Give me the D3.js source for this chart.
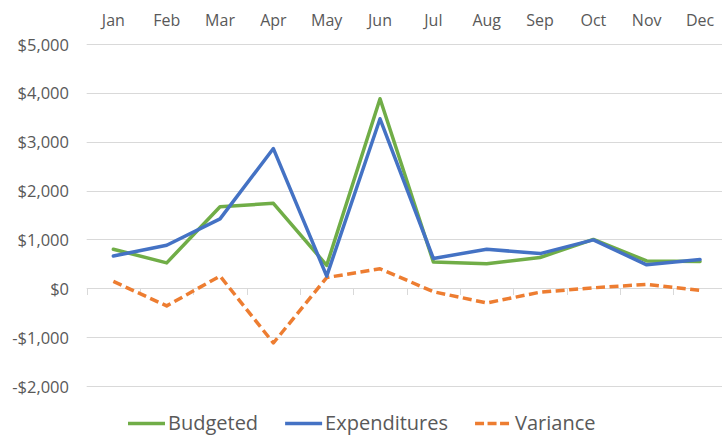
<!DOCTYPE html>
<html>
<head>
<meta charset="utf-8">
<script src="https://cdn.jsdelivr.net/npm/d3@7"></script>
<style>
  html, body { margin: 0; padding: 0; background: #fff; }
  svg { display: block; font-family: "Open Sans", "Noto Sans", sans-serif; }
</style>
</head>
<body>
<svg id="chart" width="722" height="436"></svg>
<script>
const months = ["Jan","Feb","Mar","Apr","May","Jun","Jul","Aug","Sep","Oct","Nov","Dec"];
const budgeted = [800, 520, 1670, 1740, 470, 3880, 540, 500, 630, 1000, 560, 550];
const expenditures = [660, 880, 1420, 2860, 250, 3470, 610, 800, 710, 990, 480, 590];
const variance = [140, -360, 250, -1120, 220, 400, -70, -300, -80, 10, 80, -40];
const yTicks = [-2000, -1000, 0, 1000, 2000, 3000, 4000, 5000];
const seriesNames = ["Budgeted", "Expenditures", "Variance"];

const colors = { Budgeted: "#70ad47", Expenditures: "#4472c4", Variance: "#ed7d31" };
const textColor = "#595959";
const gridColor = "#d9d9d9";

const svg = d3.select("#chart");
const x = d3.scaleBand().domain(months).range([86.7, 726.7]);
const y = d3.scaleLinear().domain([-2000, 5000]).range([386, 44]);

// gridlines
svg.append("g").selectAll("line").data(yTicks).join("line")
  .attr("x1", 86.7).attr("x2", 722)
  .attr("y1", d => Math.round(y(d)) + 0.5).attr("y2", d => Math.round(y(d)) + 0.5)
  .attr("stroke", gridColor).attr("stroke-width", 1);

// y axis labels
const fmt = d => (d < 0 ? "-$" : "$") + d3.format(",")(Math.abs(d));
svg.append("g").selectAll("text").data(yTicks).join("text")
  .attr("x", 69).attr("y", d => y(d))
  .attr("text-anchor", "end").attr("dominant-baseline", "central")
  .attr("font-size", 16.5).attr("fill", textColor)
  .text(fmt);

// category ticks on zero line
const tickPos = months.map(m => x(m)).concat([x.range()[1]]);
svg.append("g").selectAll("line").data(tickPos).join("line")
  .attr("x1", d => Math.round(d) + 0.5).attr("x2", d => Math.round(d) + 0.5)
  .attr("y1", Math.round(y(0))).attr("y2", Math.round(y(0)) + 7)
  .attr("stroke", gridColor).attr("stroke-width", 1);

// month labels at top
svg.append("g").selectAll("text").data(months).join("text")
  .attr("x", d => x(d) + x.bandwidth() / 2).attr("y", 20)
  .attr("text-anchor", "middle").attr("dominant-baseline", "central")
  .attr("font-size", 16).attr("fill", textColor)
  .text(d => d);

// lines
const series = [
  { name: "Budgeted", values: budgeted, dash: null },
  { name: "Expenditures", values: expenditures, dash: null },
  { name: "Variance", values: variance, dash: "9,4.5" }
];
const line = d3.line().x((d, i) => x(months[i]) + x.bandwidth() / 2).y(d => y(d));
[series[2], series[0], series[1]].forEach(s => {
  svg.append("path").datum(s.values)
    .attr("d", line)
    .attr("fill", "none")
    .attr("stroke", colors[s.name])
    .attr("stroke-width", 3.5)
    .attr("stroke-linejoin", "round")
    .attr("stroke-linecap", s.dash ? "butt" : "round")
    .attr("stroke-dasharray", s.dash);
});

// legend
const legend = svg.append("g");
const ly = 423.5;
let lx = 128;
series.forEach(s => {
  legend.append("line")
    .attr("x1", lx).attr("x2", lx + 37).attr("y1", ly).attr("y2", ly)
    .attr("stroke", colors[s.name]).attr("stroke-width", 3.5)
    .attr("stroke-dasharray", s.dash ? "9,3.5" : null);
  const t = legend.append("text")
    .attr("x", lx + 40).attr("y", 429.5)
    .attr("font-size", 20).attr("fill", textColor)
    .text(s.name);
  const w = t.node().getComputedTextLength();
  lx = lx + 40 + w + 27;
});
</script>
</body>
</html>
